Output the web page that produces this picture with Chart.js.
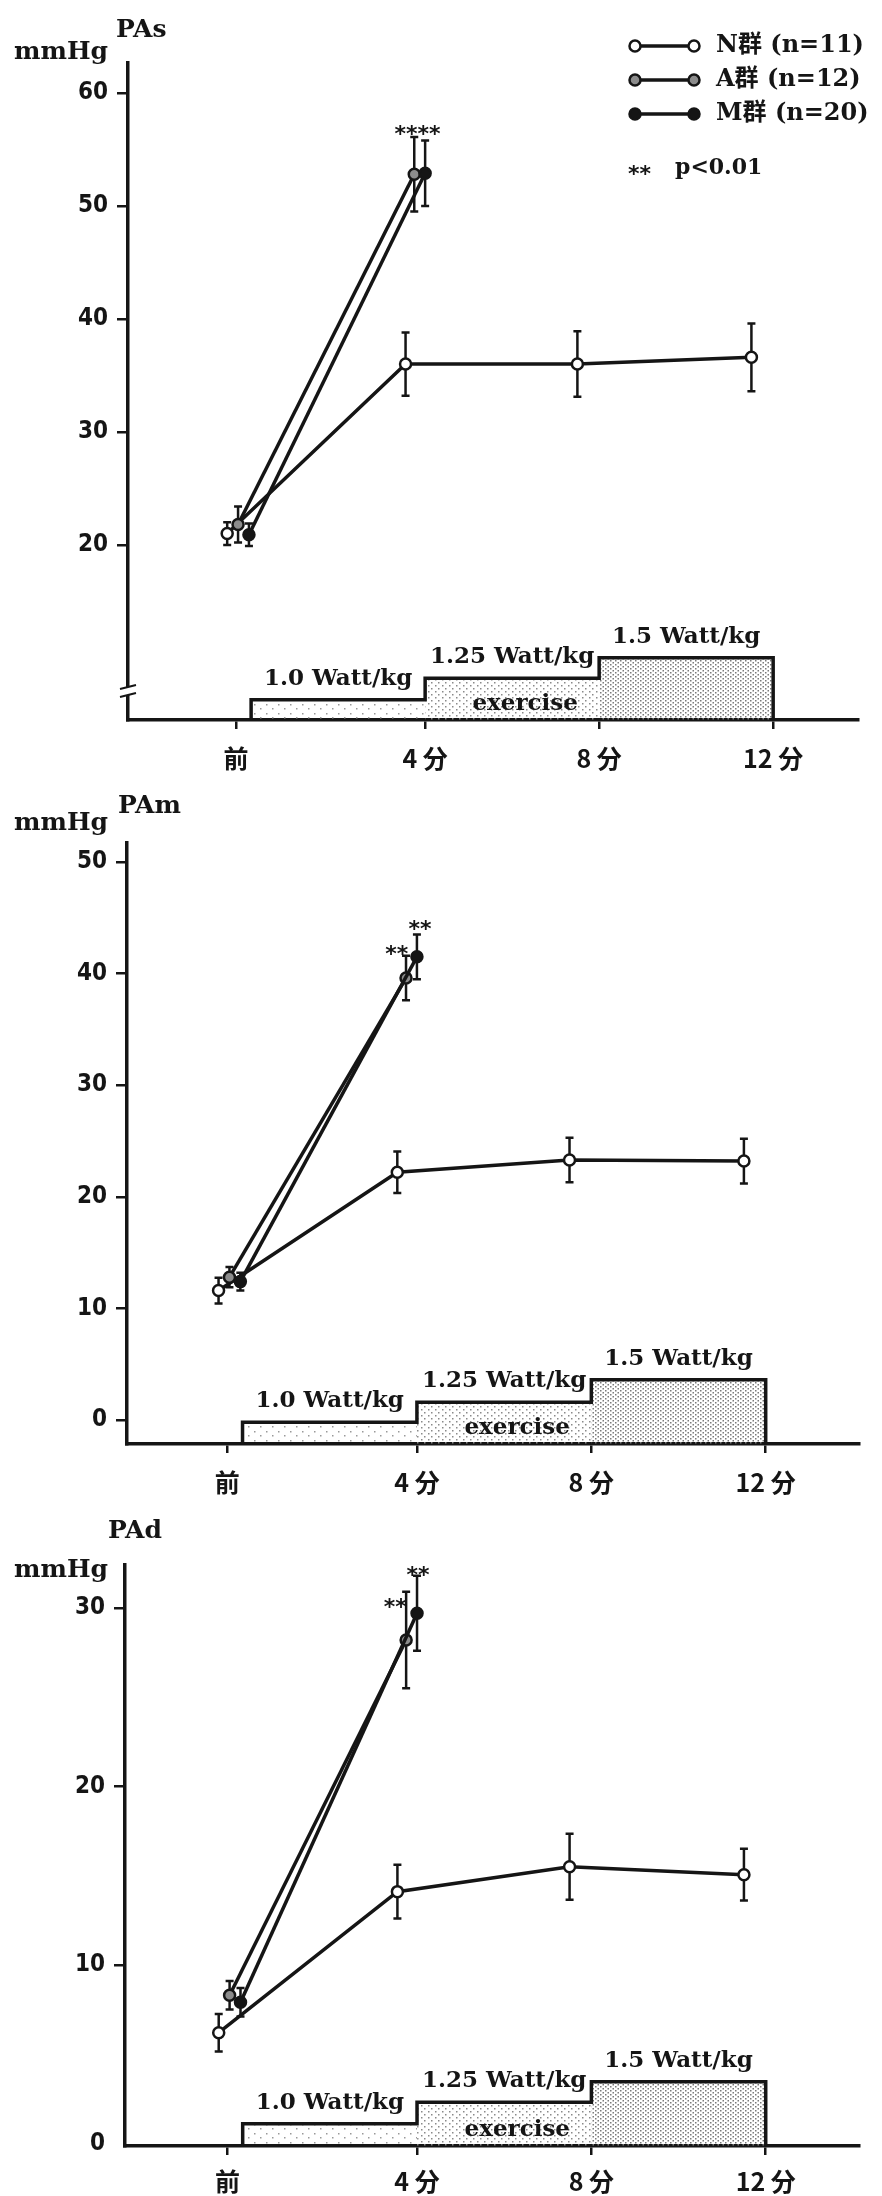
<!DOCTYPE html>
<html>
<head>
<meta charset="utf-8">
<script src="https://cdn.jsdelivr.net/npm/chart.js@4.4.1/dist/chart.umd.min.js"></script>
<style>
  html, body { margin: 0; padding: 0; background: #fff; }
  #wrap { position: relative; width: 882px; height: 2196px; }
  canvas { position: absolute; left: 0; }
</style>
</head>
<body>
<div id="wrap">
  <canvas id="pas" width="882" height="790" style="top:0px"></canvas>
  <canvas id="pam" width="882" height="720" style="top:790px"></canvas>
  <canvas id="pad" width="882" height="686" style="top:1510px"></canvas>
</div>
<script>
// time axis in minutes, 前 = before exercise
const xTickVals = [-0.35, 4, 8, 12];
const xTickLabels = ['前', '4 分', '8 分', '12 分'];
const groupNames = ['N群 (n=11)', 'A群 (n=12)', 'M群 (n=20)'];

// when each group was measured (groups are drawn a little apart)
const nTime = [-0.55, 3.55, 7.5, 11.5];
const aTime = [-0.3, 3.75];
const mTime = [-0.05, 4.0];

// exercise workload steps
const stepX = [0, 4, 8, 12];
const stepLabels = ['1.0 Watt/kg', '1.25 Watt/kg', '1.5 Watt/kg'];

// PAs
const pasN = [21.0, 36.0, 36.0, 36.6];
const pasNse = [1.0, 2.8, 2.9, 3.0];
const pasA = [21.8, 52.8];
const pasAse = [1.6, 3.3];
const pasM = [20.9, 52.9];
const pasMse = [1.0, 2.9];
const pasTicks = [20, 30, 40, 50, 60];
const pasStep = [6.3, 8.2, 10.0];
const pasStarX = [3.56, 4.09];
const pasStarY = [56.9, 56.9];

// PAm
const pamN = [11.6, 22.2, 23.3, 23.2];
const pamNse = [1.15, 1.85, 2.0, 2.0];
const pamA = [12.8, 39.6];
const pamAse = [0.9, 2.0];
const pamM = [12.4, 41.5];
const pamMse = [0.8, 2.0];
const pamTicks = [0, 10, 20, 30, 40, 50];
const pamStep = [-0.2, 1.6, 3.6];
const pamStarX = [3.54, 4.07];
const pamStarY = [42.3, 44.5];

// PAd
const padN = [6.2, 14.1, 15.5, 15.05];
const padNse = [1.05, 1.5, 1.85, 1.45];
const padA = [8.3, 28.2];
const padAse = [0.8, 2.7];
const padM = [7.9, 29.7];
const padMse = [0.8, 2.1];
const padTicks = [0, 10, 20, 30];
const padStep = [1.1, 2.3, 3.45];
const padStarX = [3.5, 4.02];
const padStarY = [30.4, 32.2];

const INK = '#151515';
const SERIF = "'DejaVu Serif', 'Noto Sans CJK JP', serif";
const TICKFONT = "'DejaVu Sans Condensed', 'Liberation Sans Narrow', sans-serif";
const CJK = "'Noto Sans CJK JP', sans-serif";
const markerFills = ['#ffffff', '#8c8c8c', INK];

function dotPattern(w, h, dots, color) {
    const c = document.createElement('canvas');
    c.width = w; c.height = h;
    const g = c.getContext('2d');
    g.fillStyle = color;
    dots.forEach(d => g.fillRect(d[0], d[1], 1.5, 1.5));
    return g.createPattern(c, 'repeat');
}

// denser dots for the heavier workload
const stepFills = [
    dotPattern(12, 9, [[2, 2], [8, 6]], '#999999'),
    dotPattern(7, 6, [[1, 1], [4, 4]], '#8a8a8a'),
    dotPattern(5, 4, [[0, 0], [2.5, 2]], '#7a7a7a')
];

function seriesSet(label, time, vals, se, fill) {
    return {
        label: label,
        se: se,
        data: vals.map((v, i) => ({ x: time[i], y: v })),
        borderColor: INK,
        borderWidth: 3.5,
        pointRadius: 5.5,
        pointBorderWidth: 2.5,
        pointBorderColor: INK,
        pointBackgroundColor: fill,
        fill: false,
        tension: 0,
        order: 1
    };
}

function marker(ctx, x, y, fill) {
    ctx.beginPath();
    ctx.arc(x, y, 5.5, 0, Math.PI * 2);
    ctx.fillStyle = fill;
    ctx.fill();
    ctx.lineWidth = 2.5;
    ctx.strokeStyle = INK;
    ctx.stroke();
}

function makePanel(id, o) {
    const outline = [{ x: stepX[0], y: o.yMin }];
    o.step.forEach((t, i) => outline.push({ x: stepX[i], y: t }, { x: stepX[i + 1], y: t }));
    outline.push({ x: stepX[stepX.length - 1], y: o.yMin });

    const datasets = [
        seriesSet(groupNames[2], mTime, o.m, o.mse, markerFills[2]),
        seriesSet(groupNames[1], aTime, o.a, o.ase, markerFills[1]),
        seriesSet(groupNames[0], nTime, o.n, o.nse, markerFills[0]),
        { data: outline, borderColor: INK, borderWidth: 3.5, pointRadius: 0, fill: false, order: 4 }
    ];
    o.step.forEach((t, i) => datasets.push({
        data: [{ x: stepX[i], y: t }, { x: stepX[i + 1], y: t }],
        borderWidth: 0, pointRadius: 0, fill: 'start', backgroundColor: stepFills[i], order: 5
    }));

    const annot = {
        id: 'annot',
        beforeDatasetsDraw(chart) {
            const ctx = chart.ctx, xs = chart.scales.x, ys = chart.scales.y;
            ctx.save();
            ctx.strokeStyle = INK;
            ctx.lineWidth = 2.5;
            chart.data.datasets.forEach(ds => {
                if (!ds.se) return;
                ds.data.forEach((p, i) => {
                    const px = xs.getPixelForValue(p.x);
                    const top = ys.getPixelForValue(p.y + ds.se[i]);
                    const bot = ys.getPixelForValue(p.y - ds.se[i]);
                    ctx.beginPath();
                    ctx.moveTo(px, top); ctx.lineTo(px, bot);
                    ctx.moveTo(px - 4, top); ctx.lineTo(px + 4, top);
                    ctx.moveTo(px - 4, bot); ctx.lineTo(px + 4, bot);
                    ctx.stroke();
                });
            });
            ctx.restore();
        },
        afterDraw(chart) {
            const ctx = chart.ctx, xs = chart.scales.x, ys = chart.scales.y;
            const area = chart.chartArea;
            ctx.save();
            ctx.fillStyle = INK;
            ctx.textBaseline = 'alphabetic';

            // axis titles
            ctx.font = 'bold 25px ' + SERIF;
            ctx.textAlign = 'left';
            ctx.fillText('mmHg', 14, o.unitY);
            ctx.fillText(o.title, o.titleX, o.titleY);

            // workload labels
            ctx.font = 'bold 23px ' + SERIF;
            ctx.textAlign = 'center';
            o.step.forEach((t, i) => {
                const cx = xs.getPixelForValue((stepX[i] + stepX[i + 1]) / 2);
                ctx.fillText(stepLabels[i], cx, ys.getPixelForValue(t) - 15);
            });
            ctx.fillText('exercise', xs.getPixelForValue(6.3), area.bottom - 10);

            // significance marks
            ctx.font = "bold 22px 'DejaVu Sans', sans-serif";
            o.starX.forEach((sx, i) => {
                ctx.fillText('**', xs.getPixelForValue(sx), ys.getPixelForValue(o.starY[i]) + 13);
            });

            // broken axis mark
            if (o.brk !== undefined) {
                const ax = area.left, by = ys.getPixelForValue(o.brk);
                ctx.fillStyle = '#fff';
                ctx.beginPath();
                ctx.moveTo(ax - 8, by - 2); ctx.lineTo(ax + 8, by - 6);
                ctx.lineTo(ax + 8, by + 2); ctx.lineTo(ax - 8, by + 6);
                ctx.closePath();
                ctx.fill();
                ctx.strokeStyle = INK;
                ctx.lineWidth = 2;
                ctx.beginPath();
                ctx.moveTo(ax - 8, by - 2); ctx.lineTo(ax + 8, by - 6);
                ctx.moveTo(ax - 8, by + 6); ctx.lineTo(ax + 8, by + 2);
                ctx.stroke();
                ctx.fillStyle = INK;
            }

            // legend
            if (o.legend) {
                const rows = [46, 80, 114];
                ctx.textAlign = 'left';
                ctx.textBaseline = 'middle';
                groupNames.forEach((name, i) => {
                    ctx.strokeStyle = INK;
                    ctx.lineWidth = 3.5;
                    ctx.beginPath();
                    ctx.moveTo(635, rows[i]); ctx.lineTo(694, rows[i]);
                    ctx.stroke();
                    marker(ctx, 635, rows[i], markerFills[i]);
                    marker(ctx, 694, rows[i], markerFills[i]);
                    ctx.fillStyle = INK;
                    ctx.font = 'bold 24px ' + SERIF;
                    ctx.fillText(name, 716, rows[i]);
                });
                ctx.font = "bold 22px 'DejaVu Sans', sans-serif";
                ctx.textBaseline = 'alphabetic';
                ctx.fillText('**', 628, 181);
                ctx.font = 'bold 22px ' + SERIF;
                ctx.textBaseline = 'middle';
                ctx.fillText('p<0.01', 675, 168);
            }
            ctx.restore();
        }
    };

    return new Chart(document.getElementById(id), {
        type: 'line',
        data: { datasets: datasets },
        options: {
            responsive: false,
            animation: false,
            devicePixelRatio: 1,
            layout: { padding: { top: o.top, right: 882 - o.right, bottom: 0, left: 0 } },
            plugins: { legend: { display: false }, tooltip: { enabled: false } },
            scales: {
                x: {
                    type: 'linear',
                    min: o.xMin,
                    max: o.xMax,
                    afterBuildTicks: s => { s.ticks = xTickVals.map(v => ({ value: v })); },
                    afterFit: s => { s.height = o.xAxisH; },
                    ticks: {
                        callback: (v, i) => xTickLabels[i],
                        font: { family: CJK, size: 25, weight: 'bold' },
                        color: INK,
                        padding: o.xPad,
                        maxRotation: 0,
                        autoSkip: false
                    },
                    grid: { drawOnChartArea: false, tickLength: 9, color: INK, lineWidth: 2.5 },
                    border: { color: INK, width: 3.5 }
                },
                y: {
                    type: 'linear',
                    min: o.yMin,
                    max: o.yMax,
                    afterBuildTicks: s => { s.ticks = o.ticks.map(v => ({ value: v })); },
                    afterFit: s => { s.width = o.left; },
                    ticks: { font: { family: TICKFONT, size: 24, weight: 'bold' }, color: INK, padding: 9, autoSkip: false },
                    grid: {
                        drawOnChartArea: false,
                        tickLength: 11,
                        color: INK,
                        lineWidth: 2.5,
                        tickColor: c => (o.hideZero && c.tick && c.tick.value === 0) ? 'rgba(0,0,0,0)' : INK
                    },
                    border: { color: INK, width: 3.5 }
                }
            }
        },
        plugins: [annot]
    });
}

makePanel('pas', {
    n: pasN, nse: pasNse, a: pasA, ase: pasAse, m: pasM, mse: pasMse,
    ticks: pasTicks, step: pasStep, starX: pasStarX, starY: pasStarY,
    yMin: 4.5, yMax: 62.65, xMin: -2.83, xMax: 13.95,
    top: 63, left: 128, right: 858, xAxisH: 70, xPad: 14,
    title: 'PAs', titleX: 116, titleY: 37, unitY: 59,
    brk: 7.07, legend: true
});

makePanel('pam', {
    n: pamN, nse: pamNse, a: pamA, ase: pamAse, m: pamM, mse: pamMse,
    ticks: pamTicks, step: pamStep, starX: pamStarX, starY: pamStarY,
    yMin: -2.15, yMax: 51.7, xMin: -2.65, xMax: 14.14,
    top: 53, left: 127, right: 859, xAxisH: 66, xPad: 14,
    title: 'PAm', titleX: 118, titleY: 23, unitY: 40
});

makePanel('pad', {
    n: padN, nse: padNse, a: padA, ase: padAse, m: padM, mse: padMse,
    ticks: padTicks, step: padStep, starX: padStarX, starY: padStarY,
    yMin: -0.15, yMax: 32.4, xMin: -2.7, xMax: 14.14,
    top: 55, left: 125, right: 859, xAxisH: 50, xPad: 11,
    title: 'PAd', titleX: 108, titleY: 28, unitY: 67,
    hideZero: true
});
</script>
</body>
</html>
